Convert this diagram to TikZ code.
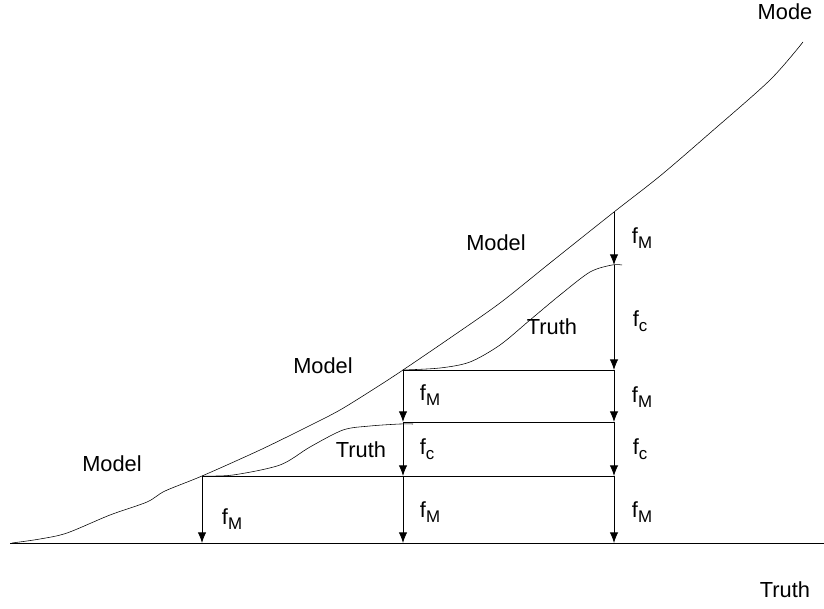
\documentclass[tikz,border=0pt]{standalone}
\usepackage{fontspec}
\setmainfont{Liberation Sans}
\usetikzlibrary{arrows.meta}
\newcommand{\fsub}[1]{f\raisebox{-0.45ex}{\fontsize{12}{13}\selectfont #1}}

\begin{document}
\begin{tikzpicture}[x=0.025cm,y=0.025cm,>={Latex[length=7.5pt,width=6pt]},
  lab/.style={font=\fontsize{15.5}{18}\selectfont,inner sep=1pt},
  drop/.style={->,semithick},
  curve/.style={thin,line join=round}]
  \useasboundingbox (0,0) rectangle (824,608);
  % feet and corners of the drops
  \coordinate (A0) at (202,65);  \coordinate (A1) at (202,132);
  \coordinate (B0) at (403,65);  \coordinate (B1) at (403,132);
  \coordinate (B2) at (403,186); \coordinate (B3) at (403,238);
  \coordinate (C0) at (614,65);  \coordinate (C1) at (614,132);
  \coordinate (C2) at (614,186); \coordinate (C3) at (614,238);
  \coordinate (C4) at (614,343); \coordinate (C5) at (614,396);
  % axis
  \draw (10,65) -- (824,65);
  % model curve
  \draw[curve] plot[smooth,tension=0.5] coordinates {(12,65) (40,69) (67,75) (110,93)
    (147,106) (165,117) (202,132) (260,158) (307,181) (340,198) (377,221)
    (403,238) (450,270) (500,305) (550,345) (614,396) (660,432) (710,475)
    (770,528) (803,566)};
  % truth curves
  \draw[curve] plot[smooth,tension=0.5] coordinates {(202,132) (233,133) (280,143)
    (310,161) (343,178) (370,182) (400,184) (413,184)};
  \draw[curve] plot[smooth,tension=0.5] coordinates {(403,238) (440,240) (470,246)
    (500,263) (530,288) (560,313) (590,336) (612,343) (622,343)};
  % levels
  \draw (A1) -- (C1);
  \draw (B2) -- (C2);
  \draw (B3) -- (C3);
  % drops
  \draw[drop] (A1) -- (A0);
  \draw[drop] (B3) -- (B2);
  \draw[drop] (B2) -- (B1);
  \draw[drop] (B1) -- (B0);
  \draw[drop] (C5) -- (C4);
  \draw[drop] (C4) -- (C3);
  \draw[drop] (C3) -- (C2);
  \draw[drop] (C2) -- (C1);
  \draw[drop] (C1) -- (C0);
  % labels
  \node[lab] (modeaxis) at (785,596) {Mode};
  \node[lab] (truthaxis) at (785,18) {Truth};
  \node[lab] (model1) at (112,144) {Model};
  \node[lab] (model2) at (323,242) {Model};
  \node[lab] (model3) at (496,365) {Model};
  \node[lab] (truth1) at (361,158) {Truth};
  \node[lab] (truth2) at (552,281) {Truth};
  \node[lab] (fmA) at (232,89) {\fsub{M}};
  \node[lab] (fmB2) at (430,213) {\fsub{M}};
  \node[lab] (fcB) at (427,159) {\fsub{c}};
  \node[lab] (fmB0) at (430,96) {\fsub{M}};
  \node[lab] (fmC4) at (642,370) {\fsub{M}};
  \node[lab] (fcC3) at (640,287) {\fsub{c}};
  \node[lab] (fmC2) at (642,211) {\fsub{M}};
  \node[lab] (fcC1) at (640,159) {\fsub{c}};
  \node[lab] (fmC0) at (642,96) {\fsub{M}};
\end{tikzpicture}
\end{document}
